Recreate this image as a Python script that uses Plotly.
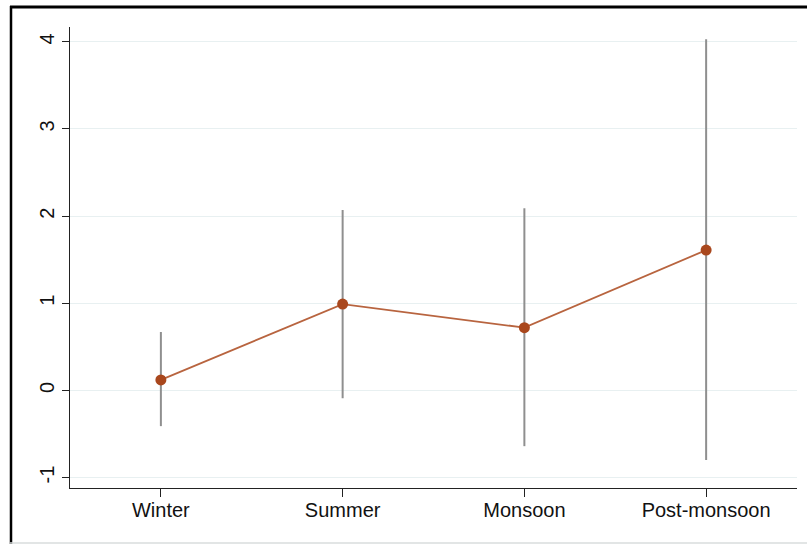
import plotly.graph_objects as go

categories = ["Winter", "Summer", "Monsoon", "Post-monsoon"]
estimates = [0.12, 0.99, 0.72, 1.61]
ci_lower = [-0.41, -0.09, -0.64, -0.80]
ci_upper = [0.67, 2.07, 2.09, 4.03]
y_ticks = [-1, 0, 1, 2, 3, 4]
y_tick_labels = ["-1", "0", "1", "2", "3", "4"]

xpos = list(range(1, len(categories) + 1))

ci_x, ci_y = [], []
for x, lo, hi in zip(xpos, ci_lower, ci_upper):
    ci_x += [x, x, None]
    ci_y += [lo, hi, None]

fig = go.Figure()
fig.add_trace(go.Scatter(x=ci_x, y=ci_y, mode="lines",
                         line=dict(color="#8f8f8f", width=2),
                         hoverinfo="skip", showlegend=False))
fig.add_trace(go.Scatter(x=xpos, y=estimates, mode="lines+markers",
                         line=dict(color="#b8643f", width=1.8),
                         marker=dict(color="#a9471d", size=11),
                         showlegend=False))

W, H = 807, 544
L, R, T, B = 70, 10, 27, 56
pw, ph = W - L - R, H - T - B

def px_x(p):
    return (p - L) / pw

def px_y(p):
    return (H - B - p) / ph

fig.update_layout(
    width=W, height=H,
    margin=dict(l=L, r=R, t=T, b=B),
    paper_bgcolor="white", plot_bgcolor="white",
    font=dict(family="Liberation Sans, Arial, sans-serif", size=20, color="#111111"),
    xaxis=dict(range=[0.5, 4.5], tickvals=xpos, ticktext=categories,
               showgrid=False, zeroline=False, showline=True,
               linecolor="#222222", linewidth=1.3,
               ticks="outside", ticklen=8, tickcolor="#222222", tickwidth=1.3,
               ticklabelstandoff=-4),
    yaxis=dict(range=[-1.12, 4.17], tickvals=y_ticks, ticktext=y_tick_labels,
               tickangle=-90,
               showgrid=True, gridcolor="#e8f0f1", gridwidth=1,
               zeroline=False, showline=True,
               linecolor="#222222", linewidth=1.3,
               ticks="outside", ticklen=7, tickcolor="#222222", tickwidth=1.3),
    shapes=[
        dict(type="line", xref="paper", yref="paper",
             x0=px_x(10), x1=px_x(W), y0=px_y(7), y1=px_y(7),
             line=dict(color="black", width=3)),
        dict(type="line", xref="paper", yref="paper",
             x0=px_x(11), x1=px_x(11), y0=px_y(6), y1=px_y(H),
             line=dict(color="black", width=2.5)),
        dict(type="line", xref="paper", yref="paper",
             x0=px_x(10), x1=px_x(W), y0=px_y(543), y1=px_y(543),
             line=dict(color="#d8dcdc", width=1.5)),
    ],
)

fig.write_html("out.html", config={"displayModeBar": False},
               post_script="document.body.style.margin='0';document.body.style.overflow='hidden';")
